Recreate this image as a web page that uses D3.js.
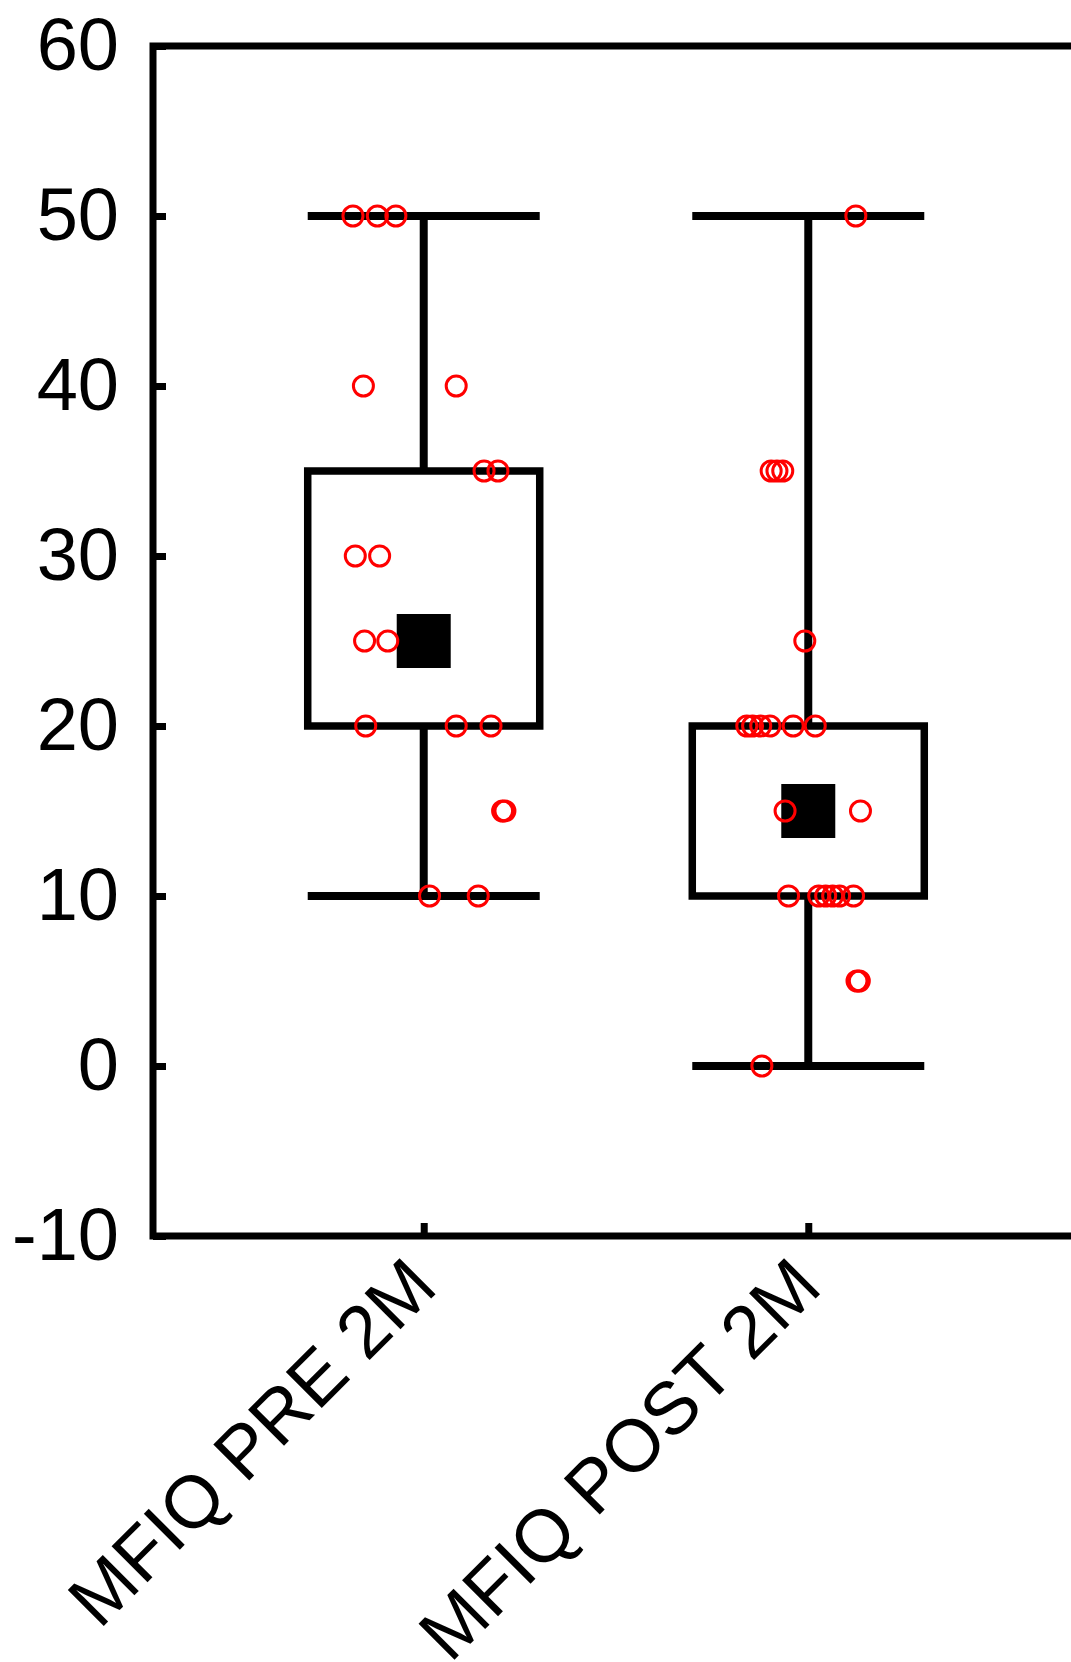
<!DOCTYPE html>
<html>
<head>
<meta charset="utf-8">
<script src="https://cdn.jsdelivr.net/npm/d3@7"></script>
<style>
  body { margin: 0; background: #fff; }
  text { font-family: "Liberation Sans", Arial, sans-serif; }
</style>
</head>
<body>
<div id="chart"></div>
<script>
var width = 1071;
var height = 1662;

// summary per group: box = 25th-75th, whiskers = min-max, square = median
var categories = ["MFIQ PRE 2M", "MFIQ POST 2M"];
var medians = [25, 15];
var lowerQ = [20, 10];
var upperQ = [35, 20];
var minima = [10, 0];
var maxima = [50, 50];
var yTicks = [-10, 0, 10, 20, 30, 40, 50, 60];

// raw points, jitter is given as a fraction of the box half width
var preValues = [50, 50, 50, 40, 40, 35, 35, 30, 30, 25, 25, 20, 20, 20, 15, 15, 10, 10];
var preJitter = [-0.61, -0.40, -0.24, -0.52, 0.28, 0.52, 0.64, -0.59, -0.38, -0.51, -0.31, -0.50, 0.28, 0.58, 0.68, 0.70, 0.05, 0.47];
var postValues = [50, 35, 35, 35, 25, 20, 20, 20, 20, 20, 20, 15, 15, 10, 10, 10, 10, 10, 10, 5, 5, 0];
var postJitter = [0.41, -0.32, -0.27, -0.22, -0.03, -0.53, -0.48, -0.41, -0.33, -0.13, 0.06, -0.20, 0.45, -0.17, 0.09, 0.15, 0.21, 0.27, 0.39, 0.42, 0.44, -0.40];

var svg = d3.select("#chart").append("svg")
	.attr("width", width)
	.attr("height", height);

var y = d3.scaleLinear()
	.domain([-10, 60])
	.range([1236, 46]);

var x = d3.scalePoint()
	.domain(categories)
	.range([153, 1079])
	.padding(0.704);

var boxWidth = 232;
var capWidth = 224;
var jitter = d3.scaleLinear().domain([-1, 1]).range([-boxWidth / 2, boxWidth / 2]);

// frame
svg.append("rect")
	.attr("x", x.range()[0])
	.attr("y", y(60))
	.attr("width", x.range()[1] - x.range()[0])
	.attr("height", y(-10) - y(60))
	.attr("fill", "none")
	.attr("stroke", "#000")
	.attr("stroke-width", 7);

// left axis, ticks inward, plain hyphen for negatives
var yAxis = svg.append("g")
	.attr("transform", "translate(" + x.range()[0] + ",0)")
	.call(d3.axisLeft(y)
		.tickValues(yTicks)
		.tickFormat(function(d) { return String(d); })
		.tickSize(-13)
		.tickPadding(34));
yAxis.select(".domain").remove();
yAxis.selectAll(".tick line").attr("stroke-width", 7);
yAxis.selectAll(".tick text")
	.attr("font-size", 74)
	.attr("font-family", "Liberation Sans, Arial, sans-serif")
	.attr("fill", "#000")
	.attr("dy", "0.32em");

// bottom axis
var xAxis = svg.append("g")
	.attr("transform", "translate(0," + y(-10) + ")")
	.call(d3.axisBottom(x).tickSize(-13));
xAxis.select(".domain").remove();
xAxis.selectAll(".tick line").attr("stroke-width", 7);
xAxis.selectAll(".tick text").remove();

svg.selectAll(".xlabel")
	.data(categories)
	.enter()
	.append("text")
	.attr("class", "xlabel")
	.attr("transform", function(d) {
		return "translate(" + (x(d) + 16) + "," + (y(-10) + 54) + ") rotate(-45)";
	})
	.attr("text-anchor", "end")
	.attr("font-size", 74)
	.attr("fill", "#000")
	.text(function(d) { return d; });

// boxes
var groups = svg.selectAll(".group")
	.data(categories)
	.enter()
	.append("g")
	.attr("class", "group");

groups.append("line")
	.attr("x1", function(d) { return x(d); })
	.attr("x2", function(d) { return x(d); })
	.attr("y1", function(d, i) { return y(maxima[i]); })
	.attr("y2", function(d, i) { return y(minima[i]); })
	.attr("stroke", "#000")
	.attr("stroke-width", 8);

groups.selectAll(".cap")
	.data(function(d, i) { return [{c: d, v: maxima[i]}, {c: d, v: minima[i]}]; })
	.enter()
	.append("line")
	.attr("class", "cap")
	.attr("x1", function(d) { return x(d.c) - capWidth / 2; })
	.attr("x2", function(d) { return x(d.c) + capWidth / 2; })
	.attr("y1", function(d) { return y(d.v); })
	.attr("y2", function(d) { return y(d.v); })
	.attr("stroke", "#000")
	.attr("stroke-width", 8)
	.attr("stroke-linecap", "square");

groups.append("rect")
	.attr("x", function(d) { return x(d) - boxWidth / 2; })
	.attr("y", function(d, i) { return y(upperQ[i]); })
	.attr("width", boxWidth)
	.attr("height", function(d, i) { return y(lowerQ[i]) - y(upperQ[i]); })
	.attr("fill", "#fff")
	.attr("stroke", "#000")
	.attr("stroke-width", 7.5);

groups.append("rect")
	.attr("x", function(d) { return x(d) - 27; })
	.attr("y", function(d, i) { return y(medians[i]) - 27; })
	.attr("width", 54)
	.attr("height", 54)
	.attr("fill", "#000");

// raw points
var points = [];
preValues.forEach(function(v, i) { points.push({c: categories[0], v: v, j: preJitter[i]}); });
postValues.forEach(function(v, i) { points.push({c: categories[1], v: v, j: postJitter[i]}); });

svg.selectAll(".pt")
	.data(points)
	.enter()
	.append("circle")
	.attr("class", "pt")
	.attr("cx", function(d) { return x(d.c) + jitter(d.j); })
	.attr("cy", function(d) { return y(d.v); })
	.attr("r", 10)
	.attr("fill", "none")
	.attr("stroke", "#ff0000")
	.attr("stroke-width", 3);
</script>
</body>
</html>
